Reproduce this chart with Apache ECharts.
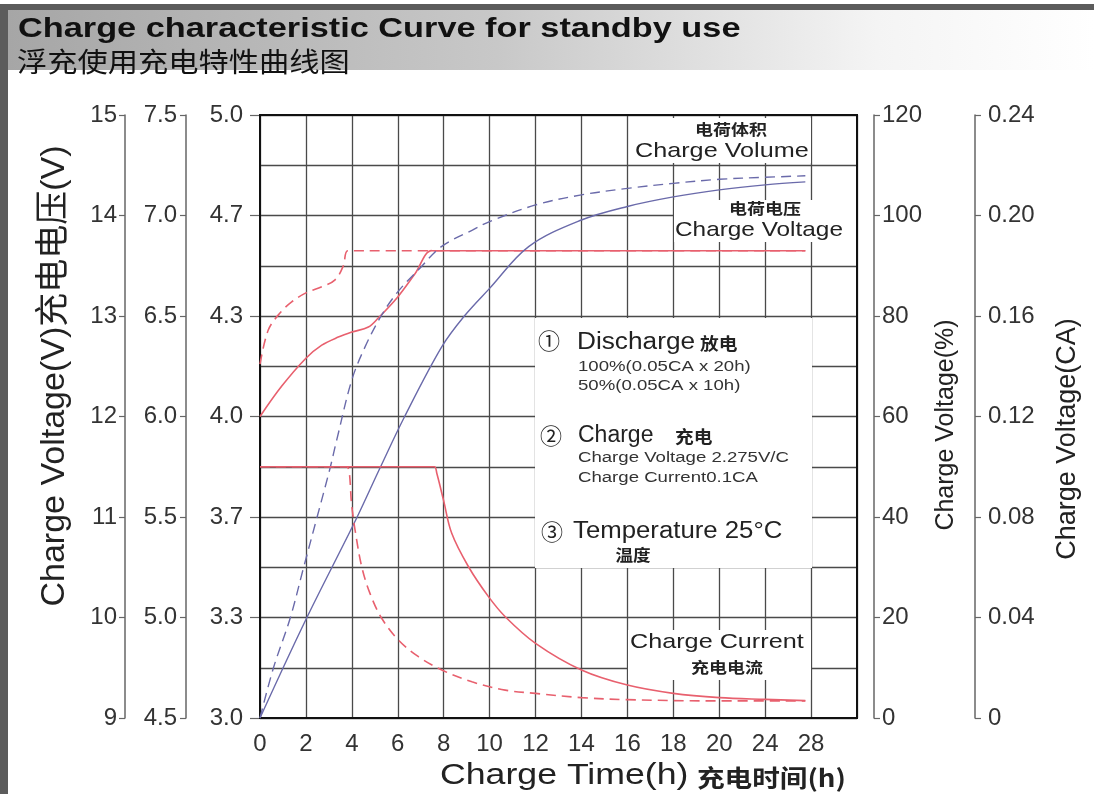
<!DOCTYPE html>
<html>
<head>
<meta charset="utf-8">
<script src="https://cdn.jsdelivr.net/npm/echarts@6/dist/echarts.min.js"></script>
<style>
html,body{margin:0;padding:0;background:#fff;}
#chart{width:1094px;height:794px;}
</style>
</head>
<body>
<div id="chart"></div>
<script>
// ---- tick labels ----
const hourLabels = ['0','2','4','6','8','10','12','14','16','18','20','24','28'];

// ---- Charge voltage (V), 100% discharge (solid) ----
const volt100Hours = [0, 0.94, 2, 2.69, 3.41, 4, 4.72, 5.15, 6, 6.75, 7.48, 8.2, 27.5];
const volt100Values = [12.0, 12.30, 12.58, 12.71, 12.79, 12.84, 12.89, 12.98, 13.19, 13.42, 13.65, 13.65, 13.65];
// ---- Charge voltage (V), 50% discharge (dashed) ----
const volt50Hours = [0, 0.36, 0.87, 1.38, 2, 2.69, 3.27, 3.63, 3.82, 4.5, 27.5];
const volt50Values = [12.52, 12.86, 13.03, 13.14, 13.23, 13.29, 13.36, 13.50, 13.65, 13.65, 13.65];

// ---- Charge volume (%), 100% discharge (solid) ----
const vol100Hours = [0, 2, 4.2, 5.2, 6.3, 7.92, 8.9, 10, 11.7, 14, 16, 18, 20, 24, 27.5];
const vol100Values = [0, 19.6, 39.7, 49.5, 60, 73.9, 80, 85.5, 93.8, 99.1, 101.8, 103.7, 105.1, 106.1, 106.7];
// ---- Charge volume (%), 50% discharge (dashed) ----
const vol50Hours = [0, 0.58, 1.31, 1.89, 2.47, 3.05, 3.34, 4, 4.58, 5.3, 6, 6.9, 7.9, 9.25, 10, 12, 14, 16, 18, 20, 24, 27.5];
const vol50Values = [0, 9.9, 19.8, 29.8, 39.7, 49.7, 55.3, 67.3, 73.9, 80.2, 84.8, 89.2, 93.8, 97.1, 98.8, 102.1, 104.1, 105.4, 106.4, 107.2, 107.6, 107.9];

// ---- Charge current (CA), 100% discharge (solid) ----
const cur100Hours = [0, 7.2, 7.6, 7.7, 7.99, 8.35, 9.08, 9.95, 10.68, 12, 14, 16, 18, 20, 24, 27.5];
const cur100Values = [0.1, 0.1, 0.1, 0.0974, 0.0868, 0.0735, 0.0602, 0.0483, 0.0403, 0.0297, 0.0191, 0.0131, 0.0098, 0.0081, 0.0074, 0.0069];
// ---- Charge current (CA), 50% discharge (dashed) ----
const cur50Hours = [0, 3.4, 3.78, 4, 4.14, 4.43, 4.79, 5.3, 6.03, 6.9, 7.92, 9.23, 10.68, 12, 14, 16, 20, 27.5];
const cur50Values = [0.1, 0.1, 0.1, 0.0841, 0.0748, 0.0602, 0.0496, 0.0397, 0.031, 0.0244, 0.0191, 0.0144, 0.0111, 0.0098, 0.0081, 0.0073, 0.0068, 0.0068];

// hour -> position on the (non-uniform) time axis
function hourPos(h){ return h <= 20 ? h / 2 : 10 + (h - 20) / 4; }
function pairs(hs, vs){ return hs.map((h, i) => [hourPos(h), vs[i]]); }

const FONT = "'Liberation Sans', Arial, 'Noto Sans CJK SC', sans-serif";
const CJK = "'Noto Sans CJK SC', 'Liberation Sans', sans-serif";
const RED = '#e8606e';
const BLUE = '#6a6aaa';
const AXC = '#666';
const GRIDC = '#4a4a4a';

function leftAxis(opt){
  return Object.assign({
    type: 'value', position: 'left',
    axisLine: {show: true, onZero: false, lineStyle: {color: AXC, width: 1.5}},
    axisTick: {show: true, length: 6, lineStyle: {color: AXC, width: 1.2}},
    axisLabel: {color: '#333', fontSize: 24, fontFamily: FONT, margin: 8},
    splitLine: {show: false}
  }, opt);
}
function rightAxis(opt){
  return Object.assign({
    type: 'value', position: 'right',
    axisLine: {show: true, onZero: false, lineStyle: {color: AXC, width: 1.5}},
    axisTick: {show: true, length: 6, lineStyle: {color: AXC, width: 1.2}},
    axisLabel: {color: '#333', fontSize: 24, fontFamily: FONT, margin: 8},
    splitLine: {show: false}
  }, opt);
}

function txt(text, x, y, size, opts){
  opts = opts || {};
  return {
    type: 'text', x: x, y: y, z: 30,
    scaleX: opts.sx || 1, scaleY: opts.sy || 1,
    rotation: opts.rot || 0,
    style: {
      text: text,
      font: (opts.bold ? 'bold ' : '') + size + 'px ' + (opts.cjk ? CJK : FONT),
      fill: opts.fill || '#222',
      align: opts.align || 'left', textAlign: opts.align || 'left',
      verticalAlign: 'middle', textVerticalAlign: 'middle'
    }
  };
}
function box(x, y, w, h){
  return {type: 'rect', z: 3, shape: {x: x, y: y, width: w, height: h}, style: {fill: '#fff'}};
}
function lineSeries(name, axis, hs, vs, color, width, dashed){
  return {
    type: 'line', name: name, yAxisIndex: axis, data: pairs(hs, vs),
    showSymbol: false, smooth: 0.35, z: 10,
    lineStyle: {color: color, width: width, type: dashed ? [10, 6] : 'solid'}
  };
}

const chart = echarts.init(document.getElementById('chart'), null, {renderer: 'canvas'});

const option = {
  backgroundColor: '#fff',
  animation: false,
  grid: {left: 260, right: 237, top: 115, bottom: 76, show: true, borderColor: '#111', borderWidth: 2, backgroundColor: 'transparent', z: 5},
  xAxis: {
    type: 'value', min: 0, max: 13, interval: 1,
    axisLine: {show: false}, axisTick: {show: false},
    axisLabel: {
      color: '#333', fontSize: 24, fontFamily: FONT, margin: 14,
      formatter: v => hourLabels[Math.round(v)] !== undefined ? hourLabels[Math.round(v)] : ''
    },
    splitLine: {show: true, lineStyle: {color: GRIDC, width: 1.3}}
  },
  yAxis: [
    leftAxis({min: 9, max: 15, interval: 1, offset: 0,
      axisTick: {show: true, length: 10, lineStyle: {color: AXC, width: 1.2}},
      axisLabel: {color: '#333', fontSize: 24, fontFamily: FONT, margin: 17, formatter: v => (v / 3).toFixed(1)}}),
    leftAxis({min: 4.5, max: 7.5, interval: 0.5, offset: 74,
      axisLabel: {color: '#333', fontSize: 24, fontFamily: FONT, margin: 9, formatter: v => v.toFixed(1)}}),
    leftAxis({min: 9, max: 15, interval: 1, offset: 135}),
    rightAxis({min: 0, max: 120, interval: 20, offset: 17}),
    rightAxis({min: 0, max: 0.24, interval: 0.04, offset: 118,
      axisLabel: {color: '#333', fontSize: 24, fontFamily: FONT, margin: 13, formatter: v => v === 0 ? '0' : v.toFixed(2)}}),
    {type: 'value', min: 0, max: 12, interval: 1, position: 'left',
      axisLine: {show: false}, axisTick: {show: false}, axisLabel: {show: false},
      splitLine: {show: true, lineStyle: {color: GRIDC, width: 1.3}}}
  ],
  series: [
    lineSeries('Voltage 100%', 2, volt100Hours, volt100Values, RED, 1.6, false),
    lineSeries('Voltage 50%', 2, volt50Hours, volt50Values, RED, 1.6, true),
    lineSeries('Volume 100%', 3, vol100Hours, vol100Values, BLUE, 1.4, false),
    lineSeries('Volume 50%', 3, vol50Hours, vol50Values, BLUE, 1.4, true),
    lineSeries('Current 100%', 4, cur100Hours, cur100Values, RED, 1.6, false),
    lineSeries('Current 50%', 4, cur50Hours, cur50Values, RED, 1.6, true)
  ],
  graphic: {elements: [
    // header band and frame
    {type: 'rect', z: 1, shape: {x: 8, y: 10, width: 1086, height: 60},
      style: {fill: new echarts.graphic.LinearGradient(0, 0, 1, 0, [
        {offset: 0, color: '#a6a6a6'}, {offset: 0.45, color: '#c8c8c8'}, {offset: 0.8, color: '#f4f4f4'}, {offset: 1, color: '#ffffff'}])}},
    {type: 'rect', z: 2, shape: {x: 0, y: 4, width: 1094, height: 6}, style: {fill: '#5c5c5c'}},
    {type: 'rect', z: 2, shape: {x: 0, y: 4, width: 8, height: 790}, style: {fill: '#5c5c5c'}},
    txt('Charge characteristic Curve for standby use', 18, 29, 28, {bold: true, sx: 1.225, fill: '#111'}),
    txt('浮充使用充电特性曲线图', 17, 62, 27, {cjk: true, sx: 1.12, fill: '#111'}),

    // axis names
    txt('Charge Voltage(V)充电电压(V)', 55, 376, 34, {rot: Math.PI / 2, align: 'center'}),
    txt('Charge Voltage(%)', 946, 425, 25, {rot: Math.PI / 2, align: 'center'}),
    txt('Charge Voltage(CA)', 1068, 439, 27, {rot: Math.PI / 2, align: 'center'}),
    txt('Charge Time(h)', 440, 776, 29, {sx: 1.23}),
    txt('充电时间(h)', 697, 778, 24, {cjk: true, bold: true, sx: 1.15}),

    // in-plot annotations
    box(631, 118, 180, 45),
    txt('电荷体积', 731, 129, 15, {cjk: true, bold: true, align: 'center', sx: 1.2}),
    txt('Charge Volume', 635, 151, 21, {sx: 1.2}),
    box(674, 200, 182, 42),
    txt('电荷电压', 765, 208, 15, {cjk: true, bold: true, align: 'center', sx: 1.2}),
    txt('Charge Voltage', 675, 230, 21, {sx: 1.16}),
    box(628, 630, 183, 50),
    txt('Charge Current', 630, 642, 21, {sx: 1.2}),
    txt('充电电流', 727, 667, 15, {cjk: true, bold: true, align: 'center', sx: 1.2}),

    box(535, 318, 277, 250),
    txt('①', 549, 341, 22, {cjk: true, align: 'center'}),
    txt('Discharge', 577, 343, 23, {sx: 1.14}),
    txt('放电', 700, 344, 17, {cjk: true, bold: true, sx: 1.1}),
    txt('100%(0.05CA x 20h)', 578, 367, 15.5, {sx: 1.2, fill: '#333'}),
    txt('50%(0.05CA x 10h)', 578, 386, 15.5, {sx: 1.2, fill: '#333'}),
    txt('②', 551, 436, 22, {cjk: true, align: 'center'}),
    txt('Charge', 578, 436, 23, {sx: 1.0}),
    txt('充电', 675, 437, 17, {cjk: true, bold: true, sx: 1.1}),
    txt('Charge Voltage 2.275V/C', 578, 458, 15.5, {sx: 1.2, fill: '#333'}),
    txt('Charge Current0.1CA', 578, 478, 15.5, {sx: 1.2, fill: '#333'}),
    txt('③', 552, 532, 22, {cjk: true, align: 'center'}),
    txt('Temperature 25°C', 573, 532, 23, {sx: 1.12}),
    txt('温度', 633, 555, 16, {cjk: true, bold: true, align: 'center', sx: 1.1})
  ]}
};
chart.setOption(option);
</script>
</body>
</html>
